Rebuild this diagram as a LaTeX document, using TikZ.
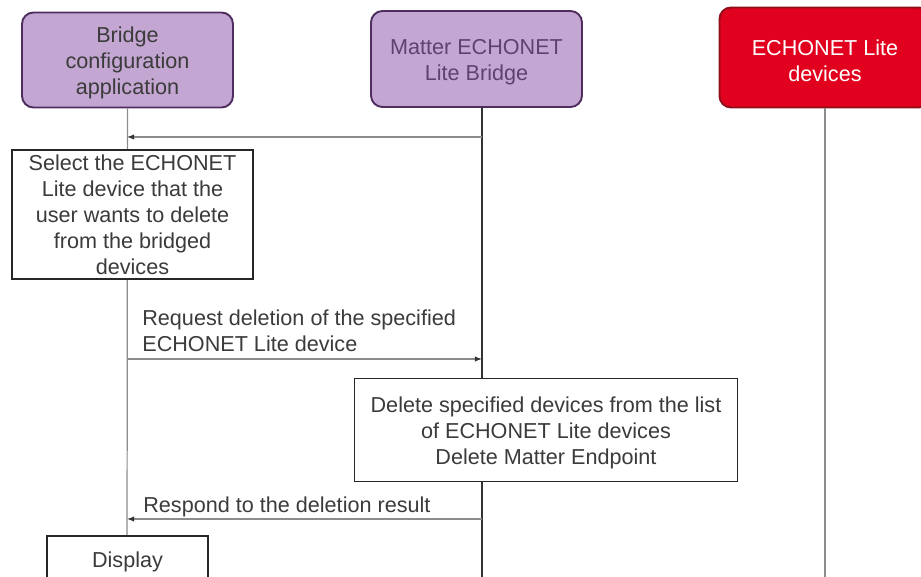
\documentclass[tikz,border=0pt]{standalone}
\usepackage{fontspec}
\setmainfont{Liberation Sans}
\usepackage{xcolor}
\usetikzlibrary{arrows.meta}

\definecolor{headpurple}{HTML}{C3A6D1}
\definecolor{purpleline}{HTML}{4F2D5F}
\definecolor{headred}{HTML}{E1001D}
\definecolor{redline}{HTML}{8E0F1C}
\definecolor{textgray}{HTML}{3B3B3B}
\definecolor{lifegray}{HTML}{8C8C8C}

% taller first line, pushes centred text a little down
\newcommand{\topstrut}{\rule{0pt}{12.5pt}}

\begin{document}
\begin{tikzpicture}[x=0.02cm,y=-0.02cm,
    font=\fontsize{12.3}{14.8}\selectfont,
    head/.style={draw=purpleline,fill=headpurple,line width=1.1pt,rounded corners=6.5pt,
      minimum width=4.22cm,align=center,text=textgray},
    stepbox/.style={draw=black!85,fill=white,line width=0.8pt,align=center,text=textgray,inner sep=0pt},
    msg/.style={draw=lifegray,line width=0.6pt,-{Latex[length=4pt,width=3pt,black!80]}},
    msglabel/.style={anchor=west,align=left,text=textgray,inner sep=0pt}]
    \useasboundingbox (0,0) rectangle (921,577);

    % Lifeline heads
    \node[head,minimum height=1.9cm] (app) at (127.5,60) {\topstrut Bridge\\configuration\\application};
    \node[head,minimum height=1.92cm,text=purpleline!90] (bridge) at (476.5,59) {\topstrut Matter ECHONET\\Lite Bridge};
    \node[head,minimum height=2cm,draw=redline,fill=headred,text=white] (devices) at (825,57.5) {\topstrut ECHONET Lite\\devices};

    % Lifelines
    \coordinate (bridge top) at (482,107);
    \coordinate (app bot) at (127,577);
    \coordinate (bridge bot) at (482,577);
    \coordinate (devices bot) at (825,577);
    \draw[lifegray,line width=0.7pt] (app.south) -- (app bot);
    \draw[black!80,line width=0.7pt] (bridge top) -- (bridge bot);
    \draw[lifegray,line width=0.7pt] (devices.south) -- (devices bot);

    % Messages
    \coordinate (m1 from) at (482,137);
    \coordinate (m1 to) at (127,137);
    \draw[msg] (m1 from) -- (m1 to);

    \node[stepbox,minimum width=4.82cm,minimum height=2.58cm] (select) at (132.5,214.5)
      {Select the ECHONET\\Lite device that the\\user wants to delete\\from the bridged\\devices};

    \coordinate (m2 from) at (127,359);
    \coordinate (m2 to) at (482,359);
    \draw[msg] (m2 from) -- (m2 to);
    \node[msglabel] (m2 label) at (142,331) {Request deletion of the specified\\ECHONET Lite device};

    \node[stepbox,minimum width=7.66cm,minimum height=2.06cm] (delete) at (546,430)
      {\topstrut Delete specified devices from the list\\of ECHONET Lite devices\\Delete Matter Endpoint};

    \coordinate (m3 from) at (482,519);
    \coordinate (m3 to) at (127,519);
    \draw[msg] (m3 from) -- (m3 to);
    \node[msglabel] (m3 label) at (143,507) {Respond to the deletion result};

    \node[stepbox,minimum width=3.22cm,minimum height=0.92cm] (display) at (127.5,559) {\topstrut Display};
\end{tikzpicture}
\end{document}
